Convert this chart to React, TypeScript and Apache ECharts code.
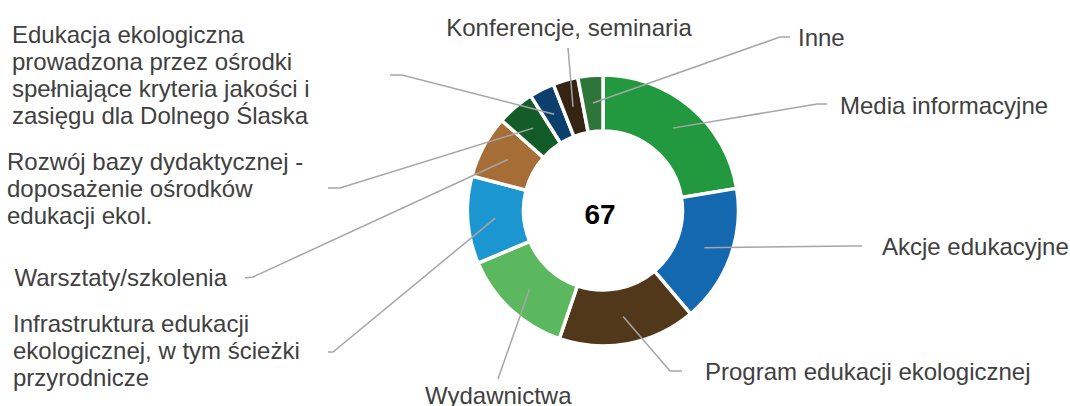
import React, { useEffect, useRef } from 'react';
import * as echarts from 'echarts';

// ---- data ----
const categories = [
  'Media informacyjne',
  'Akcje edukacyjne',
  'Program edukacji ekologicznej',
  'Wydawnictwa',
  'Infrastruktura edukacji ekologicznej, w tym ścieżki przyrodnicze',
  'Warsztaty/szkolenia',
  'Rozwój bazy dydaktycznej - doposażenie ośrodków edukacji ekol.',
  'Edukacja ekologiczna prowadzona przez ośrodki spełniające kryteria jakości i zasięgu dla Dolnego Ślaska',
  'Konferencje, seminaria',
  'Inne',
];
const displayLabels = [
  'Media informacyjne',
  'Akcje edukacyjne',
  'Program edukacji ekologicznej',
  'Wydawnictwa',
  'Infrastruktura edukacji\nekologicznej, w tym ścieżki\nprzyrodnicze',
  'Warsztaty/szkolenia',
  'Rozwój bazy dydaktycznej -\ndoposażenie ośrodków\nedukacji ekol.',
  'Edukacja ekologiczna\nprowadzona przez ośrodki\nspełniające kryteria jakości i\nzasięgu dla Dolnego Ślaska',
  'Konferencje, seminaria',
  'Inne',
];
const values = [15, 11, 11, 9, 7, 5, 3, 2, 2, 2];
const colors = [
  '#23993F', '#1468B0', '#51381B', '#5CB85F', '#1B96D1',
  '#A66D37', '#145C27', '#0C3F6B', '#352313', '#2E753A',
];

// ---- layout (positions only) ----
const CX = 603;
const CY = 210.5;
const R_IN = 79.5;
const R_OUT = 135.5;
const R_LINE = 108;
type Pos = { x: number; y: number; align: string; path: number[][] };
const labelPos: Pos[] = [
  { x: 840, y: 105, align: 'left', path: [[817, 104], [827, 104]] },
  { x: 882, y: 246, align: 'left', path: [[852, 246], [862, 246]] },
  { x: 705, y: 371.5, align: 'left', path: [[670, 371], [682, 371]] },
  { x: 425, y: 395, align: 'left', path: [[498, 379]] },
  { x: 13, y: 350, align: 'left', path: [[333, 352], [328, 352]] },
  { x: 14.5, y: 277, align: 'left', path: [[253, 277], [245, 278]] },
  { x: 7, y: 188, align: 'left', path: [[340, 188], [328, 188]] },
  { x: 12, y: 75, align: 'left', path: [[402, 75], [390, 75]] },
  { x: 569, y: 27, align: 'center', path: [[568, 48]] },
  { x: 798, y: 37, align: 'left', path: [[780, 37], [790, 37]] },
];

export default function App() {
  const ref = useRef<HTMLDivElement>(null);

  useEffect(() => {
    if (!ref.current) return;
    const chart = echarts.init(ref.current, undefined, { renderer: 'svg' });
    const total = values.reduce((a, b) => a + b, 0);
    const cum: number[] = [];
    values.reduce((acc, v, i) => {
      cum[i] = acc + v / 2;
      return acc + v;
    }, 0);

    const base = {
      type: 'pie',
      center: [CX, CY],
      radius: [R_IN, R_OUT],
      startAngle: 90,
      clockwise: true,
      avoidLabelOverlap: false,
      emphasis: { disabled: true },
    };

    chart.setOption({
      animation: false,
      backgroundColor: '#ffffff',
      graphic: [
        {
          type: 'text',
          x: 600,
          y: 214,
          style: {
            text: String(total),
            fontSize: 28,
            fontWeight: 'bold',
            fontFamily: '"Liberation Sans", Arial, sans-serif',
            fill: '#000000',
            align: 'center',
            verticalAlign: 'middle',
          },
        },
      ],
      series: [
        {
          ...base,
          z: 2,
          itemStyle: { borderColor: '#ffffff', borderWidth: 3.5 },
          label: { show: false },
          labelLine: { show: false },
          data: categories.map((name, i) => ({
            name,
            value: values[i],
            itemStyle: { color: colors[i] },
          })),
        },
        {
          ...base,
          z: 3,
          silent: true,
          itemStyle: { color: 'rgba(0,0,0,0)', borderWidth: 0 },
          label: {
            show: true,
            position: 'outside',
            formatter: (p: any) => displayLabels[p.dataIndex],
            fontSize: 24,
            lineHeight: 27,
            color: '#404040',
            fontFamily: '"Liberation Sans", Arial, sans-serif',
            width: 420,
            overflow: 'none',
          },
          labelLine: {
            show: true,
            length: 10,
            length2: 10,
            smooth: false,
            lineStyle: { color: '#a6a6a6', width: 1.5 },
          },
          labelLayout: (params: any) => {
            const i = params.dataIndex;
            const p = labelPos[i];
            const ang = (cum[i] / total) * Math.PI * 2;
            const sx = CX + R_LINE * Math.sin(ang);
            const sy = CY - R_LINE * Math.cos(ang);
            return {
              x: p.x,
              y: p.y,
              align: p.align,
              verticalAlign: 'middle',
              hideOverlap: false,
              labelLinePoints: [[sx, sy], ...p.path],
            };
          },
          data: categories.map((name, i) => ({
            name,
            value: values[i],
          })),
        },
      ],
    });
    return () => chart.dispose();
  }, []);

  return (
    <div
      ref={ref}
      style={{ position: 'fixed', left: 0, top: 0, width: 1070, height: 406 }}
    />
  );
}
